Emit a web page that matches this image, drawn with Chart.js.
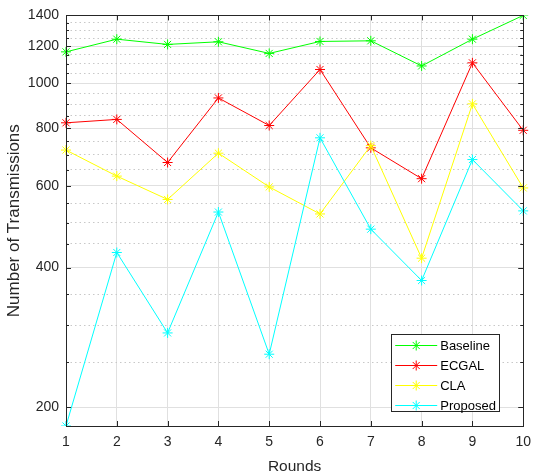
<!DOCTYPE html>
<html><head><meta charset="utf-8">
<script src="https://cdn.jsdelivr.net/npm/chart.js@4/dist/chart.umd.min.js"></script>
<style>html,body{margin:0;padding:0;background:#fff}#wrap{width:539px;height:475px;position:relative}</style>
</head><body><div id="wrap"><canvas id="c" width="539" height="475"></canvas></div>
<script>
const rounds = ['1','2','3','4','5','6','7','8','9','10'];
const baseline = [1168,1244,1212,1228,1159,1230,1234,1089,1244,1400];
const ecgal    = [821,835,674,929,810,1070,725,622,1106,791];
const cla      = [717,630,561,706,597,522,733,419,902,594];
const proposed = [182,431,289,527,260,762,484,375,684,530];
const yMajorTicks = [200,400,600,800,1000,1200,1400];
const yMinorTicks = [250,300,350,450,500,550,650,700,750,850,900,950,1050,1100,1150,1250,1300,1350];
const yMin = 182, yMax = 1400;

const FONT = "'Liberation Sans', Arial, Helvetica, sans-serif";
const TXT = '#262626';
const isMajor = v => yMajorTicks.includes(v);

function starMark(ctx, x, y, r, color){
  ctx.save();
  ctx.strokeStyle = color; ctx.lineWidth = 1;
  ctx.beginPath();
  for (let k = 0; k < 4; k++){
    const a = k*Math.PI/4;
    ctx.moveTo(x - r*Math.cos(a), y - r*Math.sin(a));
    ctx.lineTo(x + r*Math.cos(a), y + r*Math.sin(a));
  }
  ctx.stroke();
  ctx.restore();
}

const framePlugin = {
  id: 'frame',
  afterDatasetsDraw(chart){
    const {ctx, chartArea: a, scales} = chart;
    ctx.save();
    ctx.strokeStyle = TXT; ctx.lineWidth = 1;
    ctx.beginPath();
    rounds.forEach((r, i) => {
      const x = Math.round(scales.x.getPixelForValue(i)) + 0.5;
      ctx.moveTo(x, a.bottom); ctx.lineTo(x, a.bottom - 5);
      ctx.moveTo(x, a.top); ctx.lineTo(x, a.top + 5);
    });
    yMajorTicks.concat(yMinorTicks).forEach(v => {
      const y = Math.round(scales.y.getPixelForValue(v)) + 0.5;
      const len = isMajor(v) ? 5 : 3;
      ctx.moveTo(a.left, y); ctx.lineTo(a.left + len, y);
      ctx.moveTo(a.right, y); ctx.lineTo(a.right - len, y);
    });
    ctx.stroke();
    ctx.strokeRect(Math.round(a.left)+0.5, Math.round(a.top)+0.5, Math.round(a.right-a.left), Math.round(a.bottom-a.top));
    ctx.restore();
  },
  afterDraw(chart){
    const {ctx, chartArea: a} = chart;
    const ds = chart.data.datasets;
    const lw = 108, lh = 77;
    const lx = a.right - 24 - lw, ly = a.bottom - 15 - lh;
    ctx.save();
    ctx.fillStyle = '#fff';
    ctx.fillRect(lx, ly, lw, lh);
    ctx.strokeStyle = TXT; ctx.lineWidth = 1;
    ctx.strokeRect(Math.round(lx)+0.5, Math.round(ly)+0.5, lw, lh);
    ctx.font = '13px ' + FONT;
    ctx.textBaseline = 'middle';
    ctx.textAlign = 'left';
    ds.forEach((d, i) => {
      const y = Math.round(ly + 11 + i*20) + 0.5;
      ctx.strokeStyle = d.borderColor;
      ctx.beginPath(); ctx.moveTo(lx + 4, y); ctx.lineTo(lx + 46, y); ctx.stroke();
      starMark(ctx, lx + 25, y, 5, d.borderColor);
      ctx.fillStyle = '#000';
      ctx.fillText(d.label, lx + 49, y + 1);
    });
    ctx.restore();
  }
};

function mk(label, data, color, order){
  return {label, data, borderColor: color, backgroundColor: color, borderWidth: 1,
    pointStyle: 'star', pointRadius: 5, pointBorderWidth: 1, pointBorderColor: color,
    tension: 0, fill: false, order};
}

new Chart(document.getElementById('c'), {
  type: 'line',
  data: {
    labels: rounds,
    datasets: [
      mk('Baseline', baseline, '#00ff00', 4),
      mk('ECGAL', ecgal, '#ff0000', 3),
      mk('CLA', cla, '#ffff00', 2),
      mk('Proposed', proposed, '#00ffff', 1)
    ]
  },
  options: {
    responsive: false, animation: false,
    layout: {padding: {left: 0, right: 13, top: 15, bottom: 0}},
    plugins: {legend: {display: false}, tooltip: {enabled: false}},
    scales: {
      x: {
        type: 'category', offset: false,
        afterFit(s){ s.height = 49; },
        grid: {color: '#e0e0e0', drawTicks: false, lineWidth: 1},
        border: {display: false},
        ticks: {color: TXT, font: {family: FONT, size: 14}, padding: 8, maxRotation: 0, autoSkip: false},
        title: {display: true, text: 'Rounds', color: TXT, font: {family: FONT, size: 15.5, lineHeight: 1}, padding: {top: 0, bottom: 1}}
      },
      y: {
        type: 'logarithmic', min: yMin, max: yMax,
        afterBuildTicks(s){
          s.ticks = yMajorTicks.concat(yMinorTicks).sort((p, q) => p - q).map(v => ({value: v, major: isMajor(v)}));
        },
        afterFit(s){ s.width = 66; },
        grid: {drawTicks: false, lineWidth: 1,
          color: c => (c.tick && !isMajor(c.tick.value)) ? '#c8c8c8' : '#e0e0e0'},
        border: {display: false,
          dash: c => (c.tick && !isMajor(c.tick.value)) ? [1.5, 3] : []},
        ticks: {color: TXT, font: {family: FONT, size: 14}, padding: 7, autoSkip: false,
          callback: v => isMajor(v) ? String(v) : ''},
        title: {display: true, text: 'Number of Transmissions', color: TXT, font: {family: FONT, size: 17, lineHeight: 1}, padding: {top: 6, bottom: 0}}
      }
    }
  },
  plugins: [framePlugin]
});
</script>
</body></html>
